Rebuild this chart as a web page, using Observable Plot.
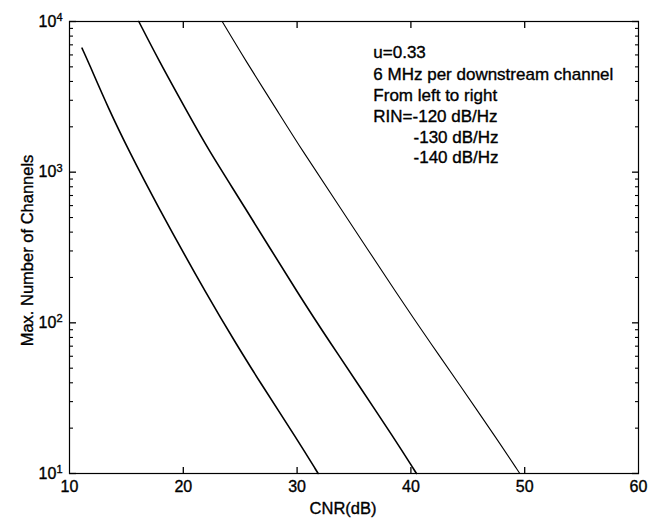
<!DOCTYPE html>
<html>
<head>
<meta charset="utf-8">
<script src="https://cdn.jsdelivr.net/npm/d3@7"></script>
<script src="https://cdn.jsdelivr.net/npm/@observablehq/plot@0.6"></script>
<style>
  body { margin: 0; background: #fff; }
</style>
</head>
<body>
<div id="chart"></div>
<script>
// ---- Data ----
// RIN = -120 dB/Hz (leftmost curve)
const cnrRin120 = [11.1, 11.6, 13.5, 15.21, 17.47, 22.33, 24.74, 26.63, 30.06, 31.85];
const chRin120  = [6650, 5508, 2565, 1393, 649, 141, 70.8, 41.5, 16.6, 10];
// RIN = -130 dB/Hz (middle curve)
const cnrRin130 = [16.09, 17.85, 20.28, 22.24, 25.03, 30.45, 33.08, 35.13, 38.65, 40.49];
const chRin130  = [10000, 5508, 2565, 1393, 649, 141, 70.8, 41.5, 16.6, 10];
// RIN = -140 dB/Hz (rightmost curve)
const cnrRin140 = [23.42, 25.47, 28.25, 30.45, 33.37, 39.15, 41.87, 44.01, 47.64, 49.57];
const chRin140  = [10000, 5508, 2565, 1393, 649, 141, 70.8, 41.5, 16.6, 10];

// Axis ticks
const xTickLabels = [10, 20, 30, 40, 50, 60];
const xTickMarks = [20, 30, 40, 50];
const yMajorTicks = [10, 100, 1000, 10000];
const yMinorTicks = [20, 30, 40, 50, 60, 70, 80, 90, 200, 300, 400, 500, 600, 700, 800, 900, 2000, 3000, 4000, 5000, 6000, 7000, 8000, 9000];

// Text
const xLabel = "CNR(dB)";
const yLabel = "Max. Number of Channels";
const annoLines = ["u=0.33", "6 MHz per downstream channel", "From left to right", "RIN=-120 dB/Hz", "-130 dB/Hz", "-140 dB/Hz"];
const annoX = [36.7, 36.7, 36.7, 36.7, 40.23, 40.23];
const annoY = [6226, 4449, 3228, 2343, 1700, 1252];

// ---- Build tables ----
const toRows = (xs, ys) => xs.map((x, i) => ({cnr: x, ch: ys[i]}));
const s120 = toRows(cnrRin120, chRin120);
const s130 = toRows(cnrRin130, chRin130);
const s140 = toRows(cnrRin140, chRin140);
const anno = annoLines.map((t, i) => ({text: t, x: annoX[i], y: annoY[i]}));

const W = 658, H = 521, ML = 69, MR = 20, MT = 21, MB = 48;
const tickColor = "black";

const fmtPow = d => "10^" + Math.round(Math.log10(d));
const ink = {fill: "black", stroke: "black", strokeWidth: 0.35};

const chart = Plot.plot({
  width: W,
  height: H,
  marginLeft: ML,
  marginRight: MR,
  marginTop: MT,
  marginBottom: MB,
  style: {fontFamily: "'Liberation Sans', Arial, sans-serif", fontSize: "16px", color: "black", background: "white", overflow: "visible"},
  x: {domain: [10, 60]},
  y: {type: "log", domain: [10, 10000]},
  marks: [
    Plot.frame({stroke: "black", strokeWidth: 1.2}),
    // inward ticks (outward axis ticks shifted inside by their own length)
    Plot.axisX(xTickMarks, {anchor: "bottom", tickSize: 6, dy: -6, fill: "none", label: null, stroke: tickColor, strokeWidth: 1.3}),
    Plot.axisX(xTickMarks, {anchor: "top", tickSize: 6, dy: 6, fill: "none", label: null, stroke: tickColor, strokeWidth: 1.3}),
    Plot.axisY(yMajorTicks, {anchor: "left", tickSize: 7, dx: 7, fill: "none", label: null, stroke: tickColor, strokeWidth: 1.3}),
    Plot.axisY(yMajorTicks, {anchor: "right", tickSize: 7, dx: -7, fill: "none", label: null, stroke: tickColor, strokeWidth: 1.3}),
    Plot.axisY(yMinorTicks, {anchor: "left", tickSize: 4, dx: 4, fill: "none", label: null, stroke: tickColor, strokeWidth: 1.1}),
    Plot.axisY(yMinorTicks, {anchor: "right", tickSize: 4, dx: -4, fill: "none", label: null, stroke: tickColor, strokeWidth: 1.1}),
    // tick labels
    Plot.axisX(xTickLabels, {anchor: "bottom", tickSize: 0, tickPadding: 7, label: null, fontSize: 16, textStroke: "black", textStrokeWidth: 0.35}),
    Plot.axisY(yMajorTicks, {anchor: "left", tickSize: 0, tickPadding: 7, label: null, tickFormat: fmtPow, fontSize: 16, textStroke: "black", textStrokeWidth: 0.35}),
    // curves
    Plot.line(s120, {x: "cnr", y: "ch", stroke: "black", strokeWidth: 1.6, curve: "basis"}),
    Plot.line(s130, {x: "cnr", y: "ch", stroke: "black", strokeWidth: 1.6, curve: "basis"}),
    Plot.line(s140, {x: "cnr", y: "ch", stroke: "black", strokeWidth: 1.1, curve: "basis"}),
    // annotation
    Plot.text(anno, {x: "x", y: "y", text: "text", textAnchor: "start", fontSize: 17, ...ink}),
    // axis labels
    Plot.text([xLabel], {frameAnchor: "bottom", textAnchor: "middle", lineAnchor: "middle", dx: -11, dy: 35, fontSize: 16.5, ...ink}),
    Plot.text([yLabel], {frameAnchor: "left", textAnchor: "middle", lineAnchor: "middle", rotate: -90, dx: -42, dy: 3, fontSize: 16.5, ...ink})
  ]
});

// superscript exponents on the log axis labels
d3.select(chart).selectAll('g[aria-label="y-axis tick label"] text').each(function () {
  const parts = this.textContent.split("^");
  if (parts.length !== 2) return;
  const sel = d3.select(this);
  sel.text(parts[0]);
  sel.append("tspan").attr("dy", "-0.5em").attr("font-size", "11px").text(parts[1]);
});

document.getElementById("chart").appendChild(chart);
</script>
</body>
</html>
